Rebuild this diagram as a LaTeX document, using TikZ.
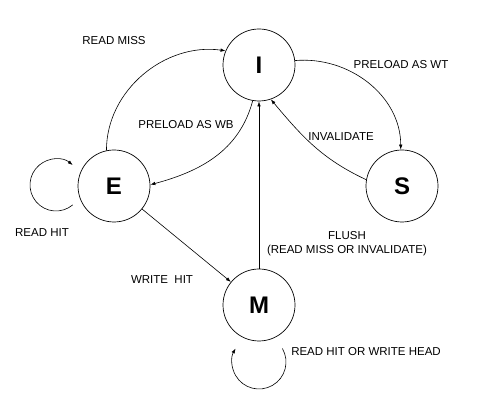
\documentclass[tikz,border=0pt]{standalone}
\usepackage{fontspec}
\setmainfont{Liberation Sans}
\usepackage{tikz}
\usetikzlibrary{arrows.meta, positioning, calc}

\begin{document}
\begin{tikzpicture}[
  x=1pt, y=1pt,
  state/.style={draw, circle, minimum size=72pt, inner sep=0pt,
    font=\fontsize{24}{24}\selectfont\bfseries, line width=0.7pt},
  arr/.style={-{Latex[length=5pt, width=3.5pt]}, line width=0.6pt},
  lbl/.style={font=\fontsize{11.5}{14}\selectfont, align=center, inner sep=0pt}
]
  \useasboundingbox (0,0) rectangle (482,419);

  % States
  \node[state] (I) at (259, 354) {I};
  \node[state] (E) at (114, 233) {E};
  \node[state] (S) at (402, 233) {S};
  \node[state] (M) at (259, 114) {M};

  % Loop centres
  \coordinate (eloop) at (56, 234);
  \coordinate (mloop) at (259, 57);

  % Transitions
  \draw[arr] (E.102) to[out=90, in=172] (I.157);
  \draw[arr] (I.-100) to[out=-105, in=15] (E.2);
  \draw[arr] (I.7) to[out=5, in=90] (S.92);
  \draw[arr] (S.170) to[out=155, in=-50] (I.-71);
  \draw[arr] (M) -- (I);
  \draw[arr] (E) -- (M);

  % Self loops
  \draw[arr] ($(eloop)+(-50:26)$) arc[start angle=-50, end angle=-310, radius=26];
  \draw[arr] ($(mloop)+(30:27)$) arc[start angle=30, end angle=-210, radius=27];

  % Labels
  \node[lbl] (lreadmiss) at (114, 378) {READ MISS};
  \node[lbl] (lwt) at (401, 354) {PRELOAD AS WT};
  \node[lbl] (lwb) at (186, 294) {PRELOAD AS WB};
  \node[lbl] (linval) at (341, 282) {INVALIDATE};
  \node[lbl] (lreadhit) at (42, 186) {READ HIT};
  \node[lbl] (lflush) at (347, 175) {FLUSH\\(READ MISS OR INVALIDATE)};
  \node[lbl] (lwrite) at (162, 139) {WRITE\ \ HIT};
  \node[lbl] (lmloop) at (366, 67) {READ HIT OR WRITE HEAD};
\end{tikzpicture}
\end{document}
